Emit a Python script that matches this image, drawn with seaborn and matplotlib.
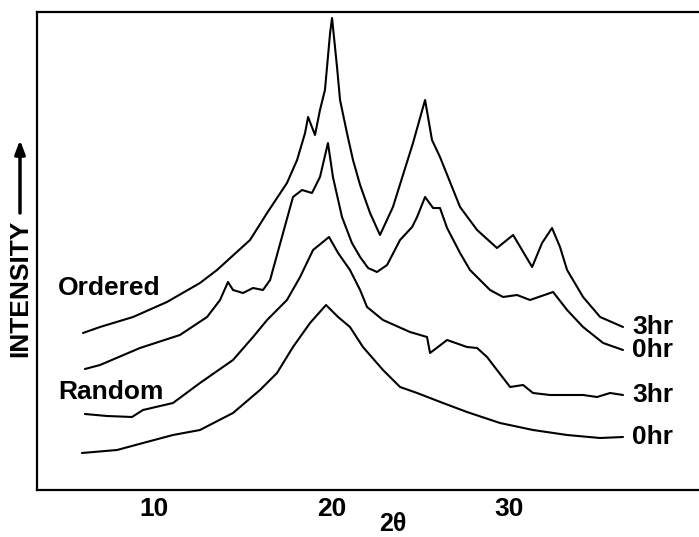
# XRD patterns - ordered vs random, 0hr / 3hr
import numpy as np
import pandas as pd
import matplotlib
matplotlib.use('Agg')
import matplotlib.pyplot as plt
import seaborn as sns

# 2theta / intensity (a.u.)
ord3_x = [6.0, 6.96, 8.82, 10.73, 12.59, 13.55, 15.41, 16.37, 17.49, 18.06, 18.51, 18.68,
          19.07, 19.35, 19.63, 19.92, 20.03, 20.31, 20.48, 20.87, 21.21, 21.61, 22.17, 22.73,
          23.46, 24.59, 25.27, 25.66, 26.11, 27.24, 28.20, 29.32, 30.23, 31.30, 31.86, 32.42,
          32.87, 33.27, 34.17, 35.13, 36.42]
ord3_y = [157, 163, 173, 188, 207, 220, 250, 277, 307, 330, 357, 373,
          355, 380, 400, 457, 472, 423, 390, 357, 330, 305, 277, 255,
          283, 347, 390, 350, 333, 283, 260, 242, 255, 223, 247, 262,
          243, 220, 193, 173, 163]

ord0_x = [6.11, 6.96, 9.21, 11.46, 12.99, 13.72, 14.17, 14.45, 15.01, 15.58, 16.14, 16.54,
          17.27, 17.83, 18.34, 18.90, 19.35, 19.80, 20.08, 20.59, 21.15, 21.61, 22.06, 22.56,
          23.13, 23.86, 24.54, 24.82, 25.27, 25.72, 26.11, 26.51, 27.24, 27.80, 28.93, 29.66,
          30.45, 31.18, 32.48, 33.27, 34.17, 35.30, 36.42]
ord0_y = [121, 125, 142, 155, 173, 190, 208, 200, 197, 202, 200, 210,
          257, 293, 300, 297, 313, 347, 313, 273, 247, 233, 222, 218,
          225, 250, 263, 273, 293, 282, 282, 262, 237, 220, 200, 193,
          195, 190, 198, 180, 163, 147, 140]

ran3_x = [6.11, 7.35, 8.76, 9.38, 11.07, 12.59, 14.45, 15.58, 16.37, 17.49, 18.23, 18.96,
          19.86, 20.37, 21.04, 21.61, 22.0, 22.90, 24.42, 25.38, 25.55, 26.51, 27.63, 28.20,
          28.76, 29.32, 30.06, 30.79, 31.35, 32.31, 34.17, 34.96, 35.69, 36.42]
ran3_y = [76, 74, 73, 80, 87, 107, 130, 153, 170, 190, 213, 240,
          253, 237, 220, 200, 183, 170, 158, 153, 137, 150, 143, 142,
          133, 120, 103, 105, 97, 95, 95, 93, 97, 95]

ran0_x = [5.94, 7.92, 9.38, 11.07, 12.59, 14.45, 15.97, 16.93, 17.83, 18.79, 19.69, 20.37,
          21.04, 21.77, 22.90, 23.86, 24.82, 26.28, 27.63, 29.49, 31.35, 33.27, 35.13, 36.42]
ran0_y = [37, 40, 47, 55, 60, 77, 100, 117, 143, 167, 185, 173,
          163, 143, 120, 103, 97, 87, 78, 67, 60, 55, 52, 53]

series_names = ['Ordered 3hr', 'Ordered 0hr', 'Random 3hr', 'Random 0hr']
end_labels = ['3hr', '0hr', '3hr', '0hr']
group_labels = ['Ordered', 'Random']
group_label_y = [202, 98]
xticks = [10, 20, 30]

frames = []
for name, xs, ys in zip(series_names, [ord3_x, ord0_x, ran3_x, ran0_x],
                        [ord3_y, ord0_y, ran3_y, ran0_y]):
    frames.append(pd.DataFrame({'two_theta': xs, 'intensity': ys, 'sample': name}))
df = pd.concat(frames, ignore_index=True)

sns.set_style('white')
plt.rcParams['font.family'] = ['Liberation Sans', 'DejaVu Sans']
plt.rcParams['font.weight'] = 'bold'
plt.rcParams['text.color'] = 'black'
plt.rcParams['xtick.color'] = 'black'

fig = plt.figure(figsize=(6.99, 5.37), dpi=100)
ax = fig.add_axes([37 / 699, 1 - 490 / 537, 1 - 37 / 699, (490 - 12) / 537])

sns.lineplot(data=df, x='two_theta', y='intensity', hue='sample', units='sample',
             estimator=None, sort=False, palette=['black'] * 4, linewidth=1.5,
             legend=False, ax=ax)

ax.set_xlim(3.41, 40.7)
ax.set_ylim(0, 478)
ax.set_xticks(xticks)
ax.set_xticklabels([str(t) for t in xticks], fontsize=19, fontweight='bold', color='black')
ax.set_yticks([])
ax.tick_params(axis='x', direction='in', length=13, width=2, pad=5, colors='black')
ax.set_xlabel('')
ax.set_ylabel('')
for side in ['left', 'top', 'bottom']:
    ax.spines[side].set_visible(True)
    ax.spines[side].set_color('black')
    ax.spines[side].set_linewidth(1.6)
ax.spines['right'].set_visible(False)

# curve end labels
for lab, ys in zip(end_labels, [ord3_y, ord0_y, ran3_y, ran0_y]):
    ax.text(36.93, ys[-1], lab, fontsize=19, fontweight='bold', va='center', ha='left',
            color='black')

for lab, y in zip(group_labels, group_label_y):
    ax.text(4.59, y, lab, fontsize=19, fontweight='bold', va='center', ha='left',
            color='black')

# axis titles
fig.text(393 / 699, 1 - 524 / 537, '2θ', fontsize=18, fontweight='bold',
         ha='center', va='center', color='black')
fig.text(20 / 699, 1 - 288 / 537, 'INTENSITY', fontsize=19, fontweight='bold',
         rotation=90, ha='center', va='center', color='black')
ax.annotate('', xy=(20 / 699, 1 - 140 / 537), xytext=(20 / 699, 1 - 213 / 537),
            xycoords='figure fraction', textcoords='figure fraction',
            arrowprops=dict(arrowstyle='-|>,head_length=0.8,head_width=0.3',
                            color='black', lw=2.5, shrinkA=0, shrinkB=0))

fig.savefig('out.png', dpi=100)
